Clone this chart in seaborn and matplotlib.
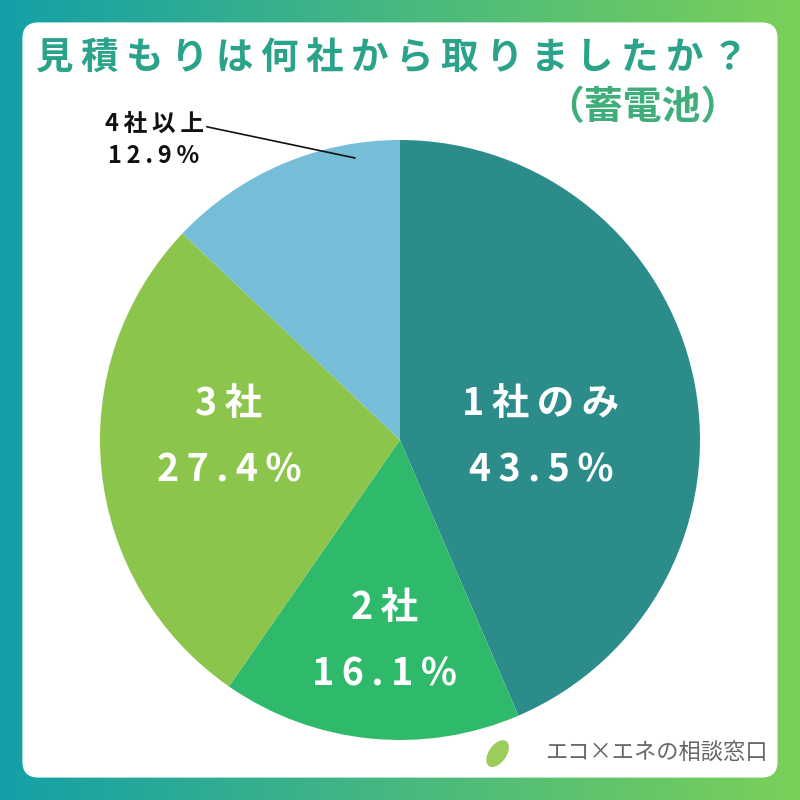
import matplotlib
matplotlib.use("Agg")
import matplotlib.pyplot as plt
import numpy as np
import seaborn as sns
from matplotlib.patches import FancyBboxPatch, Ellipse
from matplotlib.colors import LinearSegmentedColormap

sns.set_theme(style="white")
plt.rcParams['font.family'] = ['Noto Sans CJK JP', 'DejaVu Sans']

categories = ["1社のみ", "2社", "3社", "4社以上"]
values = [43.5, 16.1, 27.4, 12.9]
colors = ["#2b8c8a", "#2fb96b", "#8cc54b", "#76bdd8"]
title = "見積もりは何社から取りましたか？"
subtitle = "（蓄電池）"

TS = "\u2009"
def sp(s):
    return TS.join(s)

fig = plt.figure(figsize=(8, 8), dpi=100)
bg = fig.add_axes([0, 0, 1, 1])
grad = np.linspace(0, 1, 256).reshape(1, -1)
cmap = LinearSegmentedColormap.from_list("g", ["#14a0a8", "#7ad058"])
bg.imshow(grad, aspect="auto", cmap=cmap, extent=[0, 1, 0, 1])
bg.add_patch(FancyBboxPatch((0.028, 0.028), 0.944, 0.944, boxstyle="round,pad=0,rounding_size=0.02",
                            facecolor="white", edgecolor="none", transform=bg.transAxes))
bg.add_patch(Ellipse((0.622, 0.058), 0.022, 0.038, angle=-35, facecolor="#9ccc5a", edgecolor="none"))
bg.set_xlim(0, 1); bg.set_ylim(0, 1); bg.axis("off")

fig.text(0.49, 0.927, sp(title), ha="center", va="center", fontsize=27, fontweight="bold", color="#2ba38a")
fig.text(0.925, 0.865, subtitle, ha="right", va="center", fontsize=28, fontweight="bold", color="#3fae7a")

ax = fig.add_axes([0.125, 0.075, 0.75, 0.75])
wedges, _ = ax.pie(values, colors=colors, startangle=90, counterclock=False, radius=1.0,
                   wedgeprops=dict(linewidth=0))
ax.set_aspect("equal")
ax.set_xlim(-1, 1); ax.set_ylim(-1, 1)

label_pos = [(0.47, 0.0), (-0.05, -0.68), (-0.57, 0.0)]
for i, (x, y) in enumerate(label_pos):
    ax.text(x, y + 0.12, sp(categories[i]), ha="center", va="center", fontsize=27,
            color="white", fontweight="bold")
    ax.text(x, y - 0.1, sp(f"{values[i]}%"), ha="center", va="center", fontsize=27,
            color="white", fontweight="bold")
ax.annotate(f"{sp(categories[3])}\n{sp(str(values[3]) + '%')}", xy=(-0.15, 0.94),
            xytext=(-0.82, 1.0), ha="center", va="center", fontsize=17, fontweight="bold",
            color="#111111", linespacing=1.4, annotation_clip=False,
            arrowprops=dict(arrowstyle="-", color="#111111", lw=1.2, shrinkA=0, shrinkB=0,
                            relpos=(1.0, 0.75)))

fig.text(0.96, 0.058, "エコ×エネの相談窓口", ha="right", va="center", fontsize=16, color="#666666")

fig.savefig("out.png", dpi=100)
